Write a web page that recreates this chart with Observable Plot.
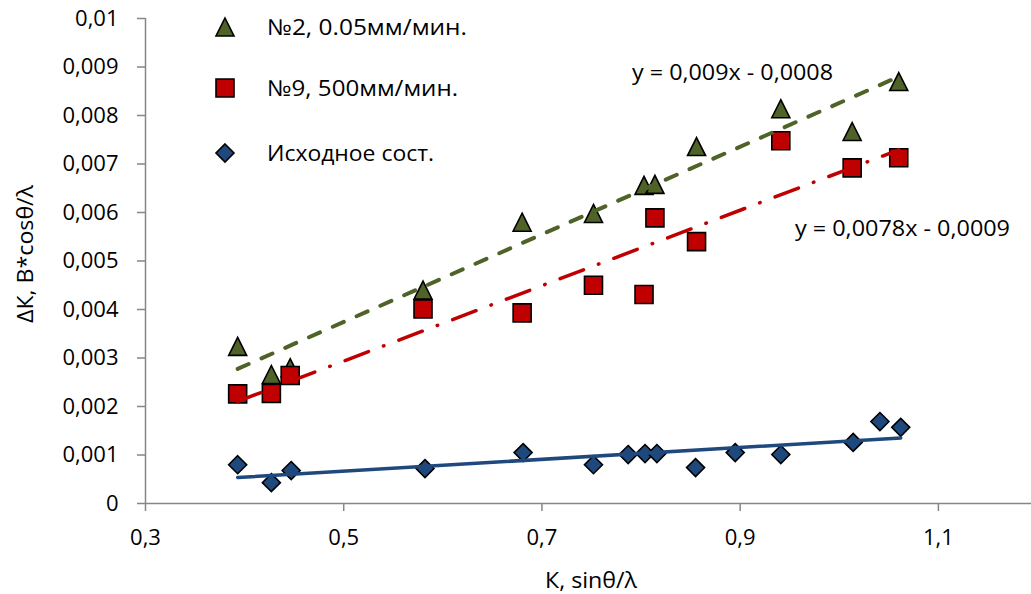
<!DOCTYPE html>
<html>
<head>
<meta charset="utf-8">
<script src="https://cdn.jsdelivr.net/npm/d3@7"></script>
<script src="https://cdn.jsdelivr.net/npm/@observablehq/plot@0.6"></script>
<style>
  body { margin: 0; background: #fff; }
  #wrap { position: relative; width: 1031px; height: 594px; font-family: "Open Sans", sans-serif; overflow: hidden; }
  #wrap svg.ov { position: absolute; left: 0; top: 0; pointer-events: none; }
</style>
</head>
<body>
<div id="wrap"></div>
<script>
// ---------- data ----------
const seriesNames = ["№2, 0.05мм/мин.", "№9, 500мм/мин.", "Исходное сост."];
const seriesFill = ["#4F6228", "#C00000", "#1F497D"];

const x2 = [0.393, 0.427, 0.446, 0.580, 0.680, 0.752, 0.803, 0.814, 0.856, 0.941, 1.013, 1.060];
const y2 = [0.00324, 0.00266, 0.0028, 0.0044, 0.0058, 0.00598, 0.00656, 0.00658, 0.00736, 0.00814, 0.00767, 0.0087];

const x9 = [0.393, 0.427, 0.446, 0.580, 0.680, 0.752, 0.803, 0.814, 0.856, 0.941, 1.013, 1.060];
const y9 = [0.00226, 0.00227, 0.00264, 0.00401, 0.00393, 0.0045, 0.00431, 0.00589, 0.00540, 0.00748, 0.00692, 0.00713];

const x0 = [0.393, 0.427, 0.447, 0.582, 0.681, 0.752, 0.787, 0.804, 0.816, 0.855, 0.895, 0.941, 1.014, 1.041, 1.062];
const y0 = [0.0008, 0.00043, 0.00068, 0.00072, 0.00105, 0.0008, 0.00101, 0.00103, 0.00103, 0.00074, 0.00105, 0.00101, 0.00126, 0.00169, 0.00157];

const xTicks = [0.3, 0.5, 0.7, 0.9, 1.1];
const xTickLabels = ["0,3", "0,5", "0,7", "0,9", "1,1"];
const yTicks = [0, 0.001, 0.002, 0.003, 0.004, 0.005, 0.006, 0.007, 0.008, 0.009, 0.01];
const yTickLabels = ["0", "0,001", "0,002", "0,003", "0,004", "0,005", "0,006", "0,007", "0,008", "0,009", "0,01"];

const equations = ["y = 0,009x - 0,0008", "y = 0,0078x - 0,0009"];
const xLabel = "К, sinθ/λ";
const yLabel = "ΔК, B*cosθ/λ";

// ---------- symbols ----------
const triSym = { draw(ctx, size) { const s = Math.sqrt(size); ctx.moveTo(0, -s / 2); ctx.lineTo(s / 2, s / 2); ctx.lineTo(-s / 2, s / 2); ctx.closePath(); } };
const sqSym = { draw(ctx, size) { const s = Math.sqrt(size); ctx.rect(-s / 2, -s / 2, s, s); } };
const diaSym = { draw(ctx, size) { const s = Math.sqrt(size); ctx.moveTo(0, -s / 2); ctx.lineTo(s / 2, 0); ctx.lineTo(0, s / 2); ctx.lineTo(-s / 2, 0); ctx.closePath(); } };
const syms = [triSym, sqSym, diaSym];
const symSide = 18;
const rFor = s => s / Math.sqrt(Math.PI);

const pts = (xs, ys) => xs.map((x, i) => ({ x, y: ys[i] }));
const d2 = pts(x2, y2), d9 = pts(x9, y9), d0 = pts(x0, y0);

const W = 1031, H = 594;
const axisGrey = "#868686";
const tickFont = 22;

const chart = Plot.plot({
  width: W,
  height: H,
  marginLeft: 145,
  marginRight: -6,
  marginTop: 18,
  marginBottom: 91,
  style: { fontFamily: "Open Sans, sans-serif", fontSize: "22px", color: "#000", background: "#fff" },
  x: { domain: [0.3, 1.2] },
  y: { domain: [0, 0.01] },
  marks: [
    Plot.axisX({ ticks: xTicks, tickSize: 8, tickPadding: 18, tickFormat: d => xTickLabels[xTicks.indexOf(d)], stroke: axisGrey, strokeWidth: 1.5, fill: "#000", fontSize: tickFont, label: null }),
    Plot.axisY({ ticks: yTicks, tickSize: 8, tickPadding: 19, tickFormat: d => yTickLabels[yTicks.indexOf(d)], stroke: axisGrey, strokeWidth: 1.5, fill: "#000", fontSize: tickFont, label: null }),
    Plot.ruleY([0], { stroke: axisGrey, strokeWidth: 1.5 }),
    Plot.ruleX([0.3], { stroke: axisGrey, strokeWidth: 1.5 }),
    Plot.dot(d2, { x: "x", y: "y", symbol: () => triSym, r: rFor(symSide), fill: seriesFill[0], stroke: "#000", strokeWidth: 1.6 }),
    Plot.dot(d9, { x: "x", y: "y", symbol: () => sqSym, r: rFor(symSide), fill: seriesFill[1], stroke: "#000", strokeWidth: 1.6 }),
    Plot.dot(d0, { x: "x", y: "y", symbol: () => diaSym, r: rFor(symSide), fill: seriesFill[2], stroke: "#000", strokeWidth: 1.6 }),
    Plot.linearRegressionY(d2, { x: "x", y: "y", ci: 0, stroke: "#4F6228", strokeWidth: 4, strokeDasharray: "12,14", strokeLinecap: "round" }),
    Plot.linearRegressionY(d9, { x: "x", y: "y", ci: 0, stroke: "#C00000", strokeWidth: 3.5, strokeDasharray: "25,16,0.5,16", strokeLinecap: "round" }),
    Plot.linearRegressionY(d0, { x: "x", y: "y", ci: 0, stroke: "#1F497D", strokeWidth: 3.5 })
  ]
});

const wrap = document.getElementById("wrap");
wrap.appendChild(chart);

// ---------- overlay: legend, equations, axis titles ----------
const ov = d3.select(wrap).append("svg").attr("class", "ov").attr("width", W).attr("height", H)
  .style("font-family", "Open Sans, sans-serif");

const legendY = [27, 88, 153];
const legendLen = [200, 191, 167];
seriesNames.forEach((name, i) => {
  ov.append("path")
    .attr("transform", `translate(225,${legendY[i]})`)
    .attr("d", d3.symbol(syms[i], symSide * symSide)())
    .attr("fill", seriesFill[i]).attr("stroke", "#000").attr("stroke-width", 1.6);
  ov.append("text").attr("x", 267).attr("y", legendY[i]).attr("dy", "0.36em")
    .attr("font-size", 22).attr("textLength", legendLen[i]).attr("lengthAdjust", "spacingAndGlyphs")
    .text(name);
});

const eqPos = [[632, 72, 201], [795, 228, 215]];
equations.forEach((eq, i) => {
  ov.append("text").attr("x", eqPos[i][0]).attr("y", eqPos[i][1]).attr("dy", "0.36em")
    .attr("font-size", 22).attr("textLength", eqPos[i][2]).attr("lengthAdjust", "spacingAndGlyphs")
    .text(eq);
});

ov.append("text").attr("transform", "translate(25,254) rotate(-90)").attr("text-anchor", "middle").attr("dy", "0.36em")
  .attr("font-size", 21).attr("textLength", 138).attr("lengthAdjust", "spacingAndGlyphs").text(yLabel);

ov.append("text").attr("x", 591).attr("y", 580).attr("text-anchor", "middle").attr("dy", "0.36em")
  .attr("font-size", 21).attr("textLength", 92).attr("lengthAdjust", "spacingAndGlyphs").text(xLabel);
</script>
</body>
</html>
